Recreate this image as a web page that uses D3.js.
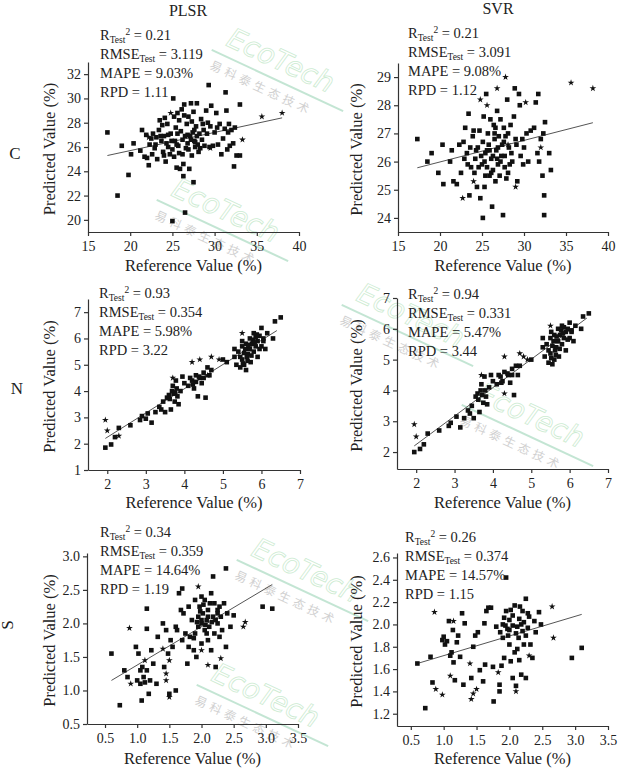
<!DOCTYPE html>
<html><head><meta charset="utf-8">
<script src="https://cdn.jsdelivr.net/npm/d3@7/dist/d3.min.js"></script>
<style>body{margin:0;background:#fff}svg{display:block}text{font-family:"Liberation Serif","DejaVu Serif",serif;fill:#222}</style>
</head><body><svg id="c" width="624" height="776"></svg>
<script>
// ---------- DATA ----------
const cPlsrSq=[[17.3,27.2],[18.5,22],[19,26.1],[19.8,23.7],[20.1,25.4],[20.4,26.3],[21.2,25.7],[21.4,27.4],[21.7,25.2],[22,25.1],[22.2,24.5],[22.5,26.7],[22.7,27.1],[22.9,25.9],[23,26.2],[23.2,25],[23.4,27.4],[23.5,28.2],[23.7,26.5],[23.9,25.6],[24,26.9],[24.2,24.8],[24.4,27.9],[24.5,26],[24.7,25.4],[24.8,27.1],[25,25.8],[25.1,30],[25.2,28.5],[25.3,26.5],[25.4,27.6],[25.5,24.3],[25.6,28.8],[25.7,26.1],[25.8,25.5],[25.9,24.2],[26,27.3],[26.1,29.1],[26.2,26.6],[26.3,23.6],[26.3,24.6],[26.4,29.5],[26.5,20.6],[26.6,25.9],[26.7,27.9],[26.8,26.3],[26.9,28.5],[27,24.2],[27.1,26.9],[27.2,29.6],[27.3,25.3],[27.4,27.2],[27.5,28.9],[27.5,23.1],[27.6,26.5],[27.7,26],[27.8,27.7],[27.9,29.6],[28,26.2],[28.1,25.6],[28.2,27.1],[28.4,28.3],[28.5,26.6],[28.7,27.4],[29,29],[29.2,28],[29.3,31.1],[29.4,26],[29.5,27.7],[29.6,29.4],[29.8,26.1],[30,27.2],[30.2,28.8],[30.4,26.2],[30.6,27.9],[30.8,25.4],[31,26.7],[31.2,27.5],[31.3,30.5],[31.4,29],[31.5,25.8],[31.7,27.9],[31.8,26.1],[32,27.4],[32.2,26.3],[32.3,24.4],[32.4,27.6],[32.6,25.3],[33,25.3],[33,29.5],[25,19.9],[24.5,27],[24,25.3],[26.8,27],[27.2,26.6],[26.5,26.9],[27.7,26.4],[25.5,26.2],[24.9,26.5],[23.6,26.9],[22.6,25.4],[23.1,26.8],[23.8,27.8],[24.3,26.3],[25.2,25.2],[25.6,27.1],[26.2,25.4],[26.9,25.8],[27.3,28.1],[27.9,26.9],[28.3,25.9],[28.8,26.1],[29.1,27.1],[30.3,27.6],[31.6,27.2],[25.8,28.2],[26.4,28.6],[27.6,27.4],[28.6,27.9],[24.1,28.4],[22.3,26.2],[21.9,27]];
const cPlsrSt=[[35.6,28.5],[38,28.8],[33.3,26.6],[29.5,25.9],[22.2,26.8],[24.8,28.8]];
const cSvrSq=[[17.3,26.8],[18.5,26],[19,26.3],[19.8,25.6],[20.3,26.6],[20.4,25.2],[21.2,26],[21.4,26.4],[21.6,25.3],[22,25.2],[22.3,26.6],[22.5,25.6],[22.8,26.7],[23,27.2],[23.2,26.3],[23.4,27.7],[23.5,24.8],[23.7,25.8],[23.9,26.9],[24.1,25.6],[24.2,26.1],[24.4,25.1],[24.5,26.5],[24.7,27.1],[24.8,24.7],[25,25.9],[25.1,24],[25.2,27.6],[25.3,25.1],[25.4,26.3],[25.5,28.4],[25.6,25.8],[25.7,27],[25.8,26.6],[25.9,25.5],[26,27.5],[26.1,26.1],[26.2,24.4],[26.3,25.7],[26.4,27.3],[26.5,26.8],[26.6,25.3],[26.7,26.4],[26.8,27.8],[26.9,25.9],[27,26.9],[27.1,25.5],[27.2,27.5],[27.3,26.2],[27.4,26.6],[27.5,24.1],[27.6,27.2],[27.7,25.8],[27.8,26.9],[28,28.2],[28.1,25.6],[28.2,26.5],[28.4,27.3],[28.6,26],[28.8,27.6],[28.9,28.6],[29,26.8],[29.2,25.3],[29.4,28.4],[29.5,28],[29.6,26.2],[29.8,26.8],[30,26.5],[30.3,27],[30.5,26],[30.8,27.1],[31.2,27.2],[31.4,28.1],[31.6,26.3],[31.7,28.4],[31.8,26],[32,26.8],[32.2,25.5],[32.3,27],[32.5,27.4],[32.4,24.8],[32.4,24.1],[33,26.3],[33.2,25.7],[26.3,26.2],[25.3,26],[24.3,26.4],[27.7,26.2],[26.9,26.5],[25.9,26.4],[28.3,25.9],[24.9,26.2],[26.5,27],[22.9,26.1],[23.6,26.5],[24.6,25.8],[25.1,26.7],[25.6,26.4],[26.1,25.6],[26.6,27.2],[27.2,26],[27.6,26.7],[28.1,27],[28.5,26.3],[29.1,26.6],[24,27.1],[25.4,25.5],[26.8,26.1],[27.9,25.4],[23.3,25.9],[29.9,25.9]];
const cSvrSt=[[35.6,28.8],[38.2,28.6],[27.8,29],[26.8,28.6],[24.8,28.2],[25.6,28],[22.7,24.7],[24,25.3],[29,25.1],[32,26.5],[30.2,28.1],[28.1,26.6]];
const nPlsrSq=[[1.95,1.85],[2.1,1.97],[2.2,2.25],[2.3,2.6],[2.6,2.7],[2.85,2.9],[2.9,3.05],[3,2.95],[3.05,3.15],[3.15,2.8],[3.25,3.2],[3.35,3.4],[3.4,3.3],[3.45,3.6],[3.5,3.2],[3.55,3.75],[3.6,3.85],[3.65,3.3],[3.7,4.2],[3.72,3.9],[3.75,3.6],[3.78,4.4],[3.8,4.1],[3.85,3.5],[3.9,4.0],[3.95,4.55],[4.0,4.3],[4.1,4.2],[4.2,4.4],[4.25,4.1],[4.3,4.6],[4.35,3.8],[4.4,4.5],[4.45,4.3],[4.5,4.7],[4.55,3.75],[4.6,4.9],[4.65,4.6],[4.7,4.8],[5.0,5.2],[5.1,5.1],[5.3,5.3],[5.35,5.0],[5.4,5.5],[5.45,4.9],[5.5,5.7],[5.5,5.2],[5.55,5.0],[5.6,5.8],[5.6,4.8],[5.65,5.4],[5.7,6.0],[5.7,5.6],[5.72,5.1],[5.75,5.8],[5.8,5.5],[5.8,6.2],[5.85,5.7],[5.9,5.9],[5.9,5.3],[5.95,6.1],[6.0,6.4],[6.0,5.7],[6.05,6.0],[6.1,5.6],[6.15,6.2],[6.3,6.0],[6.35,6.65],[6.5,6.8],[5.5,5.9],[5.62,5.3],[5.78,5.95],[5.68,5.6],[5.55,5.45],[5.85,6.05],[5.45,5.3],[5.3,5.6],[5.95,5.6],[6.05,5.9],[3.68,4.0],[3.82,3.8],[4.3,4.35],[4.15,4.5],[4.5,4.5],[5.58,5.6],[5.66,5.75],[5.74,5.35],[5.82,5.85],[5.52,5.05],[5.88,6.15],[5.64,5.15],[3.62,3.7],[3.76,3.95],[4.22,4.25],[4.38,4.55]];
const nPlsrSt=[[1.95,2.9],[2.0,2.5],[2.3,2.3],[4.2,5.1],[4.4,5.2],[4.7,5.3],[4.9,5.2],[5.5,6.2],[4.6,4.6],[3.7,4.5]];
const nSvrSq=[[1.95,2.0],[2.1,2.1],[2.2,2.25],[2.3,2.6],[2.6,2.7],[2.85,2.85],[2.9,2.95],[3.05,3.15],[3.15,2.8],[3.25,3.1],[3.35,3.35],[3.4,3.25],[3.45,3.5],[3.5,3.1],[3.55,3.8],[3.6,3.9],[3.65,3.3],[3.7,4.2],[3.72,3.85],[3.75,3.6],[3.78,4.45],[3.8,4.0],[3.85,3.55],[3.9,4.1],[3.95,4.5],[4.0,4.3],[4.1,4.2],[4.2,4.45],[4.25,4.3],[4.3,4.6],[4.4,4.5],[4.45,4.25],[4.5,4.7],[4.55,3.85],[4.6,4.8],[4.65,4.5],[4.7,4.8],[5.0,5.0],[5.3,5.4],[5.35,5.1],[5.4,5.5],[5.45,4.9],[5.5,5.7],[5.5,5.2],[5.55,4.85],[5.6,5.8],[5.6,5.0],[5.65,5.4],[5.7,6.0],[5.7,5.6],[5.72,5.1],[5.75,5.8],[5.8,5.5],[5.8,6.1],[5.85,5.7],[5.9,5.9],[5.9,5.3],[5.95,6.0],[6.0,6.2],[6.0,5.7],[6.05,5.95],[6.1,5.6],[6.15,6.1],[6.3,6.0],[6.35,6.4],[6.5,6.5],[5.52,5.9],[5.62,5.3],[5.78,5.95],[5.68,5.6],[5.55,5.45],[5.85,6.05],[5.45,5.3],[5.3,5.7],[5.95,5.65],[6.05,5.9],[3.68,4.0],[3.82,3.8],[4.15,4.5],[4.5,4.5],[5.58,5.6],[5.66,5.75],[5.74,5.35],[5.82,5.85],[5.52,5.05],[5.64,5.15],[3.62,3.7],[4.22,4.25],[4.38,4.55]];
const nSvrSt=[[1.95,2.9],[2.0,2.5],[4.3,5.1],[4.7,5.2],[4.8,5.1],[5.5,6.1],[4.9,5.0],[4.3,3.9],[3.7,4.5]];
const sPlsrSq=[[0.6,1.55],[0.73,0.78],[0.8,1.3],[0.85,1.2],[0.98,1.65],[1.0,1.15],[1.02,1.55],[1.05,1.1],[1.05,1.3],[1.07,0.85],[1.08,1.35],[1.1,1.2],[1.12,1.12],[1.15,1.3],[1.15,1.92],[1.15,2.22],[1.18,0.95],[1.2,1.15],[1.22,1.6],[1.25,1.4],[1.3,1.1],[1.32,1.8],[1.4,2.0],[1.42,1.35],[1.45,1.9],[1.48,1.55],[1.5,0.95],[1.52,1.75],[1.55,1.65],[1.6,1.0],[1.6,1.95],[1.62,1.9],[1.65,2.45],[1.68,2.2],[1.7,2.52],[1.7,1.75],[1.72,2.15],[1.75,1.85],[1.78,1.4],[1.8,2.25],[1.8,1.65],[1.82,1.8],[1.85,2.05],[1.88,1.6],[1.9,2.35],[1.92,1.5],[1.95,2.1],[1.95,1.95],[1.97,2.25],[2.0,2.0],[2.0,1.7],[2.02,2.15],[2.05,1.9],[2.05,2.35],[2.08,2.05],[2.1,1.75],[2.1,2.2],[2.12,1.95],[2.15,2.45],[2.15,1.6],[2.18,2.7],[2.18,2.1],[2.2,1.85],[2.2,2.3],[2.22,1.35],[2.25,2.0],[2.25,2.2],[2.28,1.8],[2.3,2.1],[2.32,1.9],[2.35,2.3],[2.38,1.65],[2.38,2.82],[2.4,2.15],[2.45,1.95],[2.5,2.12],[2.95,2.25],[3.1,2.22],[2.0,2.05],[2.1,2.1],[1.98,2.18],[2.06,1.98],[2.16,2.02],[1.9,1.85],[2.25,2.15],[2.03,2.28],[2.13,2.3],[2.22,2.05],[1.93,2.02],[2.08,1.85],[2.28,2.25],[1.88,1.78],[2.0,2.4]];
const sPlsrSt=[[0.88,1.93],[0.9,1.1],[1.12,1.45],[1.4,1.62],[1.45,1.25],[1.5,1.45],[1.45,1.15],[1.5,0.9],[1.95,2.55],[2.1,1.38],[2.3,1.48],[2.65,1.95],[2.68,2.02],[2.0,1.6]];
const sSvrSq=[[0.6,1.65],[0.72,1.25],[0.8,1.71],[0.83,1.48],[0.98,1.86],[1.0,1.89],[1.02,1.82],[1.05,1.85],[1.08,2.03],[1.1,1.72],[1.12,1.75],[1.14,1.95],[1.15,1.66],[1.17,1.5],[1.2,1.84],[1.22,1.9],[1.25,1.71],[1.28,2.1],[1.3,1.46],[1.32,2.01],[1.42,1.52],[1.45,1.8],[1.48,1.9],[1.52,1.93],[1.55,1.59],[1.6,1.49],[1.62,2.01],[1.63,1.64],[1.65,2.12],[1.68,2.15],[1.72,2.15],[1.75,1.62],[1.76,1.31],[1.8,1.98],[1.85,1.4],[1.85,1.46],[1.88,1.63],[1.9,2.0],[1.9,1.88],[1.92,1.7],[1.95,2.42],[1.95,2.12],[1.97,1.96],[2.0,2.04],[2.0,1.82],[2.02,1.67],[2.05,1.99],[2.05,1.52],[2.08,2.17],[2.1,1.45],[2.1,1.92],[2.12,1.78],[2.15,2.05],[2.15,1.68],[2.18,1.55],[2.2,1.94],[2.2,2.12],[2.22,1.82],[2.25,2.23],[2.25,1.52],[2.28,1.97],[2.3,2.07],[2.32,1.82],[2.35,1.7],[2.38,2.03],[2.4,1.93],[2.45,2.11],[2.48,2.0],[2.95,1.7],[3.1,1.79],[2.0,1.95],[2.05,2.08],[1.98,1.9],[2.12,1.98],[2.18,2.0],[1.92,2.06],[2.25,1.9],[2.02,2.13],[2.14,1.88],[2.22,2.02],[1.94,1.99],[2.08,1.75],[2.28,2.1],[1.86,1.93],[2.16,2.16]];
const sSvrSt=[[0.86,2.11],[0.88,1.42],[0.98,1.37],[1.1,1.54],[1.15,2.03],[1.4,1.65],[1.42,1.33],[1.45,1.38],[1.5,1.42],[1.83,1.57],[2.1,1.4],[2.3,1.72],[2.65,2.16],[2.67,1.88]];
// regression line endpoints [x0,y0,x1,y1]
const fitLines=[[17.3,25.3,38,28.4],[17.3,25.78,38.2,27.38],[1.95,2.2,6.4,6.3],[1.95,2.2,6.45,6.35],[0.6,1.15,3.1,2.58],[0.6,1.65,3.1,2.09]];
const r2=["0.21","0.21","0.93","0.94","0.34","0.26"];
const rmse=["3.119","3.091","0.354","0.331","0.359","0.374"];
const mape=["9.03%","9.08%","5.98%","5.47%","14.64%","14.57%"];
const rpd=["1.11","1.12","3.22","3.44","1.19","1.15"];
const xTicks=[[15,20,25,30,35,40],[15,20,25,30,35,40],[2,3,4,5,6,7],[2,3,4,5,6,7],[0.5,1,1.5,2,2.5,3,3.5],[0.5,1,1.5,2,2.5,3,3.5]];
const yTicks=[[20,22,24,26,28,30,32],[24,25,26,27,28,29],[1,2,3,4,5,6,7],[2,3,4,5,6,7],[0.5,1,1.5,2,2.5,3],[1.2,1.4,1.6,1.8,2,2.2,2.4,2.6]];
const xDom=[[15,40],[15,40],[1.5,7],[1.5,7],[0.22,3.5],[0.29,3.5]];
const yDom=[[19,33],[23.5,29.5],[1,7.5],[1.45,7],[0.5,3.05],[1.09,2.64]];
const squares=[cPlsrSq,cSvrSq,nPlsrSq,nSvrSq,sPlsrSq,sSvrSq];
const stars=[cPlsrSt,cSvrSt,nPlsrSt,nSvrSt,sPlsrSt,sSvrSt];
const models=["PLSR","SVR"];
const elements=["C","N","S"];
// ---------- LAYOUT ----------
const L=[
 {x0:88,x1:299,y0:232,y1:62,sx:100,sy:35,ylx:55,xly:271,dp:0},
 {x0:398,x1:608,y0:232,y1:63,sx:408,sy:33,ylx:362,xly:271,dp:0},
 {x0:88,x1:300,y0:470,y1:299,sx:99,sy:293,ylx:55,xly:508,dp:0},
 {x0:397,x1:608,y0:469,y1:298,sx:408,sy:294,ylx:362,xly:508,dp:0},
 {x0:87,x1:298,y0:724,y1:553,sx:100,sy:532,ylx:55,xly:764,dp:1},
 {x0:397,x1:608,y0:726,y1:553,sx:405,sy:537,ylx:362,xly:764,dp:1}];
const svg=d3.select("#c");
// watermarks (decorative)
const wm=[[225,45],[170,195],[355,300],[250,555],[475,400],[210,680]];
wm.forEach(([x,y])=>{
 const g=svg.append("g").attr("transform",`translate(${x},${y}) rotate(25)`).attr("opacity",0.45);
 g.append("text").attr("x",0).attr("y",0).attr("font-size",28).attr("font-style","italic").style("font-family","Verdana,DejaVu Sans,sans-serif").style("fill","none").attr("stroke","#8fd49a").attr("stroke-width",0.8).text("EcoTech");
 g.append("line").attr("x1",-10).attr("x2",135).attr("y1",10).attr("y2",10).attr("stroke","#7cc7a0").attr("stroke-width",2);
 g.append("text").attr("x",-5).attr("y",28).attr("font-size",12).style("font-family","Noto Sans CJK SC").style("fill","#999").attr("letter-spacing",4).text("易科泰生态技术");
});
const starPath=d3.symbol().type(d3.symbolStar).size(14)();
L.forEach((p,i)=>{
 const x=d3.scaleLinear().domain(xDom[i]).range([p.x0,p.x1]);
 const y=d3.scaleLinear().domain(yDom[i]).range([p.y0,p.y1]);
 const fmt=p.dp?d3.format(".1f"):d3.format("d");
 const ax=svg.append("g").attr("transform",`translate(0,${p.y0})`).call(d3.axisBottom(x).tickValues(xTicks[i]).tickSize(4).tickSizeOuter(0).tickFormat(fmt));
 const ay=svg.append("g").attr("transform",`translate(${p.x0},0)`).call(d3.axisLeft(y).tickValues(yTicks[i]).tickSize(4).tickSizeOuter(0).tickFormat(fmt));
 [ax,ay].forEach(a=>{a.selectAll("path,line").attr("stroke","#333").attr("stroke-width",1.2);a.selectAll("text").attr("font-size",14).style("font-family","Liberation Serif").style("fill","#222");});
 ax.selectAll("text").attr("dy","0.85em");
 const f=fitLines[i];
 svg.append("line").attr("x1",x(f[0])).attr("y1",y(f[1])).attr("x2",x(f[2])).attr("y2",y(f[3])).attr("stroke","#555").attr("stroke-width",1);
 svg.append("g").selectAll("rect").data(squares[i]).join("rect").attr("x",d=>x(d[0])-2.3).attr("y",d=>y(d[1])-2.3).attr("width",4.6).attr("height",4.6).attr("fill","#111");
 svg.append("g").selectAll("path").data(stars[i]).join("path").attr("d",starPath).attr("transform",d=>`translate(${x(d[0])},${y(d[1])})`).attr("fill","#111");
 const st=svg.append("g").attr("font-size",14.5);
 const t1=st.append("text").attr("x",p.sx).attr("y",p.sy+5);
 t1.append("tspan").text("R");t1.append("tspan").attr("font-size",9.5).attr("dy",3).text("Test");t1.append("tspan").attr("font-size",9.5).attr("dy",-8).text("2");t1.append("tspan").attr("dy",5).text(" = "+r2[i]);
 const t2=st.append("text").attr("x",p.sx).attr("y",p.sy+24);
 t2.append("tspan").text("RMSE");t2.append("tspan").attr("font-size",9.5).attr("dy",3).text("Test");t2.append("tspan").attr("dy",-3).text(" = "+rmse[i]);
 st.append("text").attr("x",p.sx).attr("y",p.sy+43).text("MAPE = "+mape[i]);
 st.append("text").attr("x",p.sx).attr("y",p.sy+62).text("RPD = "+rpd[i]);
 const cx=(p.x0+p.x1)/2;
 svg.append("text").attr("transform",`translate(${p.ylx},${(p.y0+p.y1)/2+2}) rotate(-90)`).attr("text-anchor","middle").attr("font-size",16.5).text("Predicted Value (%)");
 svg.append("text").attr("x",cx).attr("y",p.xly).attr("text-anchor","middle").attr("font-size",16.5).text("Reference Value (%)");
});
svg.append("text").attr("x",188).attr("y",16).attr("text-anchor","middle").attr("font-size",16).text(models[0]);
svg.append("text").attr("x",498).attr("y",14).attr("text-anchor","middle").attr("font-size",16).text(models[1]);
svg.append("text").attr("x",15).attr("y",159).attr("text-anchor","middle").attr("font-size",17).text(elements[0]);
svg.append("text").attr("x",17).attr("y",394).attr("text-anchor","middle").attr("font-size",17).text(elements[1]);
svg.append("text").attr("transform","translate(13,625) rotate(-90)").attr("text-anchor","middle").attr("font-size",17).text(elements[2]);
</script></body></html>
